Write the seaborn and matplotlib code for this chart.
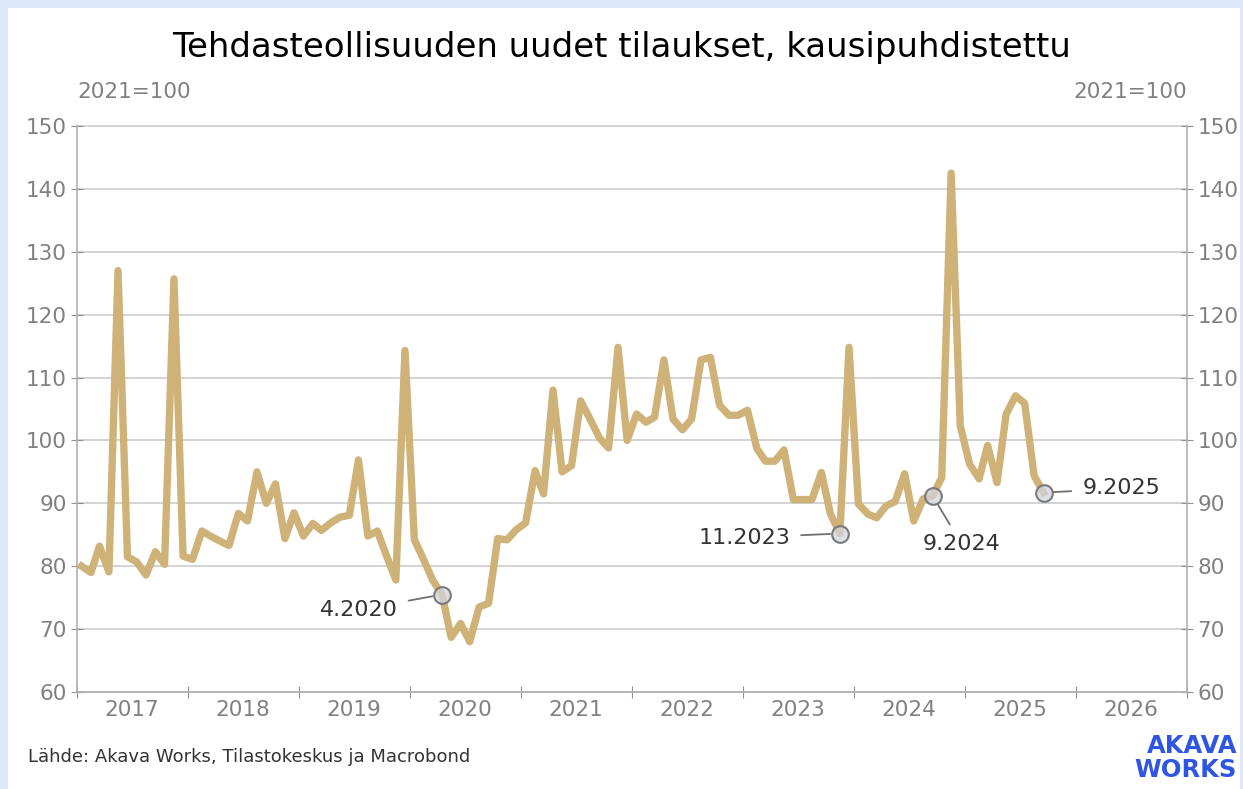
import numpy as np
import pandas as pd
import matplotlib.pyplot as plt
import matplotlib.dates as mdates
import seaborn as sns
from matplotlib.patches import Rectangle

# tilaukset, kk-arvot 1.2017 - 9.2025 (2021=100)
values = [80.0, 79.0, 83.2, 79.1, 127.0, 81.5, 80.7, 78.6, 82.3, 80.3, 125.7, 81.6,
          81.1, 85.6, 84.8, 84.0, 83.3, 88.4, 87.2, 95.0, 90.0, 93.1, 84.4, 88.5,
          84.8, 86.8, 85.7, 86.9, 87.8, 88.1, 96.9, 84.8, 85.6, 81.7, 77.8, 114.3,
          84.2, 81.0, 77.8, 75.5, 68.7, 70.9, 68.0, 73.5, 74.1, 84.4, 84.2, 85.8,
          86.9, 95.2, 91.5, 108.0, 95.0, 96.0, 106.3, 103.4, 100.4, 98.8, 114.8, 100.0,
          104.2, 102.9, 103.7, 112.8, 103.4, 101.7, 103.4, 112.8, 113.2, 105.6, 104.0, 104.0,
          104.8, 98.7, 96.7, 96.7, 98.5, 90.6, 90.6, 90.6, 94.9, 88.3, 85.2, 114.8,
          89.9, 88.3, 87.7, 89.6, 90.3, 94.7, 87.2, 90.7, 91.2, 94.1, 142.5, 102.3,
          96.2, 93.9, 99.2, 93.3, 104.2, 107.1, 105.9, 94.4, 91.7]
start = '2017-01-01'
years = list(range(2017, 2027))
y_ticks = [60, 70, 80, 90, 100, 110, 120, 130, 140, 150]
annot_dates = ['4.2020', '11.2023', '9.2024', '9.2025']
annot_offsets = [(-60, -11), (-69, -3), (21, -35), (56, 3)]

dates = pd.date_range(start, periods=len(values), freq='MS') + pd.Timedelta(days=15)
df = pd.DataFrame({'date': dates, 'value': values})

line_col = '#cfb278'
grey = '#808080'

fig = plt.figure(figsize=(12.43, 7.89), dpi=100)
fig.patch.set_facecolor('#dde8fb')
fig.patches.append(Rectangle((8 / 1243, 0), 1232 / 1243, 781 / 789, transform=fig.transFigure,
                             facecolor='white', edgecolor='none', zorder=-10))
ax = fig.add_axes([77 / 1243, 97 / 789, 1110 / 1243, 566 / 789])
ax.set_facecolor('white')

sns.lineplot(data=df, x='date', y='value', color=line_col, lw=5.3, ax=ax, zorder=3)

ax.set_ylim(60, 150)
ax.set_yticks(y_ticks)
ax.set_xlim(pd.Timestamp('2017-01-01'), pd.Timestamp('2027-01-01'))
ax.xaxis.set_major_locator(mdates.YearLocator())
ax.xaxis.set_major_formatter(plt.NullFormatter())
ax.xaxis.set_minor_locator(mdates.MonthLocator(bymonth=7, bymonthday=1))
ax.xaxis.set_minor_formatter(mdates.DateFormatter('%Y'))
ax.set_xlabel('')
ax.set_ylabel('')

ax.grid(axis='y', color='#d0d0d0', lw=1.3)
ax.grid(axis='x', visible=False)
for gl in ax.get_ygridlines():
    gl.set_clip_on(False)
ax.set_axisbelow(True)
for s in ['left', 'right', 'bottom']:
    ax.spines[s].set_color('#b0b0b0')
    ax.spines[s].set_linewidth(1.2)
ax.spines['top'].set_visible(False)

ax.tick_params(axis='y', which='major', direction='inout', length=9, color='#909090',
               labelsize=15.5, labelcolor=grey, left=True, right=True,
               labelleft=True, labelright=True, pad=3)
ax.tick_params(axis='x', which='major', direction='inout', length=9, color='#909090')
ax.tick_params(axis='x', which='minor', length=0, labelsize=15.5, labelcolor=grey, pad=6)

# merkityt pisteet
for d, off in zip(annot_dates, annot_offsets):
    m, y = d.split('.')
    t = pd.Timestamp(int(y), int(m), 1) + pd.Timedelta(days=15)
    v = df.loc[df['date'] == t, 'value'].iloc[0]
    ax.plot([t], [v], 'o', ms=12, mfc=(0.82, 0.84, 0.87, 0.75), mec='#7a7a7a', mew=1.5, zorder=5)
    ax.annotate(d, xy=(t, v), xytext=off, textcoords='offset points',
                ha='center', va='center', fontsize=16, color='#333333',
                arrowprops=dict(arrowstyle='-', color='#707070', lw=1.3,
                                shrinkA=6, shrinkB=7), zorder=6)

fig.text(0.5, 742 / 789, 'Tehdasteollisuuden uudet tilaukset, kausipuhdistettu',
         ha='center', va='center', fontsize=24.5, color='black')
fig.text(77 / 1243, 697 / 789, '2021=100', ha='left', va='center', fontsize=15.5, color=grey)
fig.text(1187 / 1243, 697 / 789, '2021=100', ha='right', va='center', fontsize=15.5, color=grey)
fig.text(28 / 1243, 32 / 789, 'Lähde: Akava Works, Tilastokeskus ja Macrobond',
         ha='left', va='center', fontsize=13, color='#333333')
fig.text(1237 / 1243, 31 / 789, 'AKAVA\nWORKS', ha='right', va='center', fontsize=17.5,
         fontweight='bold', color='#2f55e4', linespacing=0.95)

fig.savefig('out.png', dpi=100, facecolor=fig.get_facecolor())
